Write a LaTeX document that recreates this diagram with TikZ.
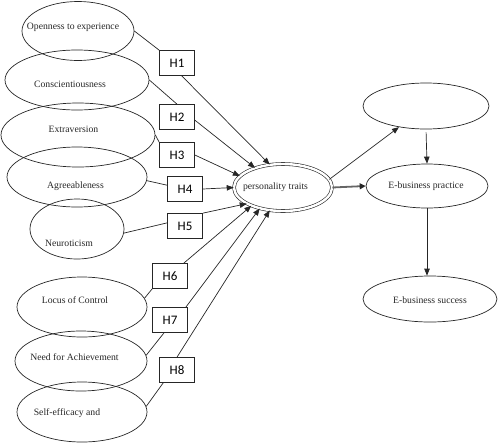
\documentclass[tikz,border=0pt]{standalone}
\usepackage{fontspec}
\setmainfont{Liberation Serif}
\newfontfamily\hfont{Carlito}
\usetikzlibrary{arrows.meta,shapes.geometric,calc}
\begin{document}
\begin{tikzpicture}[x=1pt,y=-1pt,
 ell/.style={draw=black!85, ellipse, inner sep=0pt, line width=0.7pt},
 hbox/.style={draw=black!85, rectangle, minimum width=35pt, minimum height=25pt, inner sep=0pt, font=\hfont\fontsize{13}{13}\selectfont, line width=0.7pt},
 lbl/.style={font=\fontsize{9.7}{10}\selectfont, text=black!85},
 con/.style={draw=black!85, line width=0.7pt},
 arr/.style={draw=black!85, line width=0.7pt, -{Triangle[length=7pt,width=5.5pt]}},
 thickarr/.style={draw=black!60, line width=1.8pt, -{Triangle[length=6pt,width=6pt,color=black!85,fill=black!85]}},
]
\useasboundingbox (0,0) rectangle (500,442);
% left ellipses
\node[ell, minimum width=112pt, minimum height=59pt] (o1) at (78,31) {};
\node[ell, minimum width=144pt, minimum height=60pt] (o2) at (77,80) {};
\node[ell, minimum width=154pt, minimum height=64pt] (o3) at (78,135) {};
\node[ell, minimum width=140pt, minimum height=60pt] (o4) at (77,177) {};
\node[ell, minimum width=94pt, minimum height=60pt] (o5) at (77,229) {};
\node[ell, minimum width=130pt, minimum height=60pt] (o6) at (82,307) {};
\node[ell, minimum width=132pt, minimum height=60pt] (o7) at (81,361) {};
\node[ell, minimum width=130pt, minimum height=60pt] (o8) at (82,412) {};
\node[lbl] (t1) at (73,27) {Openness to experience};
\node[lbl] (t2) at (70,84) {Conscientiousness};
\node[lbl] (t3) at (73.5,129) {Extraversion};
\node[lbl] (t4) at (75.5,186) {Agreeableness};
\node[lbl] (t5) at (69,243) {Neuroticism};
\node[lbl] (t6) at (75,300) {Locus of Control};
\node[lbl] (t7) at (74.5,357) {Need for Achievement};
\node[lbl] (t8) at (67,413) {Self-efficacy and};
% H boxes
\node[hbox] (h1) at (177,63) {H1};
\node[hbox] (h2) at (177,117) {H2};
\node[hbox] (h3) at (177,155) {H3};
\node[hbox] (h4) at (185,189) {H4};
\node[hbox] (h5) at (185,226) {H5};
\node[hbox] (h6) at (170,276) {H6};
\node[hbox] (h7) at (170,320) {H7};
\node[hbox] (h8) at (177,370) {H8};
% central and right
\node[ell, double, double distance=2.4pt, line width=0.6pt, minimum width=98pt, minimum height=47pt] (pt) at (283,187.5) {};
\node[lbl] (tpt) at (275.5,187) {personality traits};
\node[ell, minimum width=126pt, minimum height=46pt] (tr) at (426,106) {};
\node[ell, minimum width=122pt, minimum height=44pt] (pp) at (427,186) {};
\node[lbl] (tpp) at (426,186) {E-business practice};
\node[ell, minimum width=134pt, minimum height=46pt] (su) at (430,299) {};
\node[lbl] (tsu) at (430,300) {E-business success};
% ellipse to box
\draw[con] (o1.east) -- (h1.north west);
\draw[con] (o2.east) -- (h2.north);
\draw[con] (o3.east) -- (h3.north west);
\draw[con] (o4.-3) -- (h4.168);
\draw[con] (o5.-5) -- (h5.170);
\draw[con] (o6.8) -- (h6.south west);
\draw[con] (o7.5) -- (h7.245);
\draw[con] (o8.5) -- (h8.223);
% box to personality traits
\draw[arr] (h1.-70) -- (pt.120);
\draw[arr] (h2.-10) -- (pt.145);
\draw[arr] (h3.east) -- (pt.165);
\draw[arr] (h4.east) -- (pt.west);
\draw[arr] (h5.north east) -- (pt.204);
\draw[arr] (h6.43) -- (pt.210);
\draw[arr] (h7.39) -- (pt.222);
\draw[arr] (h8.north) -- (pt.240);
% right side
\draw[arr] (pt.10) -- (tr.218);
\draw[thickarr] (pt.east) -- (pp.west);
\draw[arr, shorten <=3pt] (tr.south) -- (pp.north);
\draw[arr] (pp.south) -- (pp.south |- su.north);
\end{tikzpicture}
\end{document}
